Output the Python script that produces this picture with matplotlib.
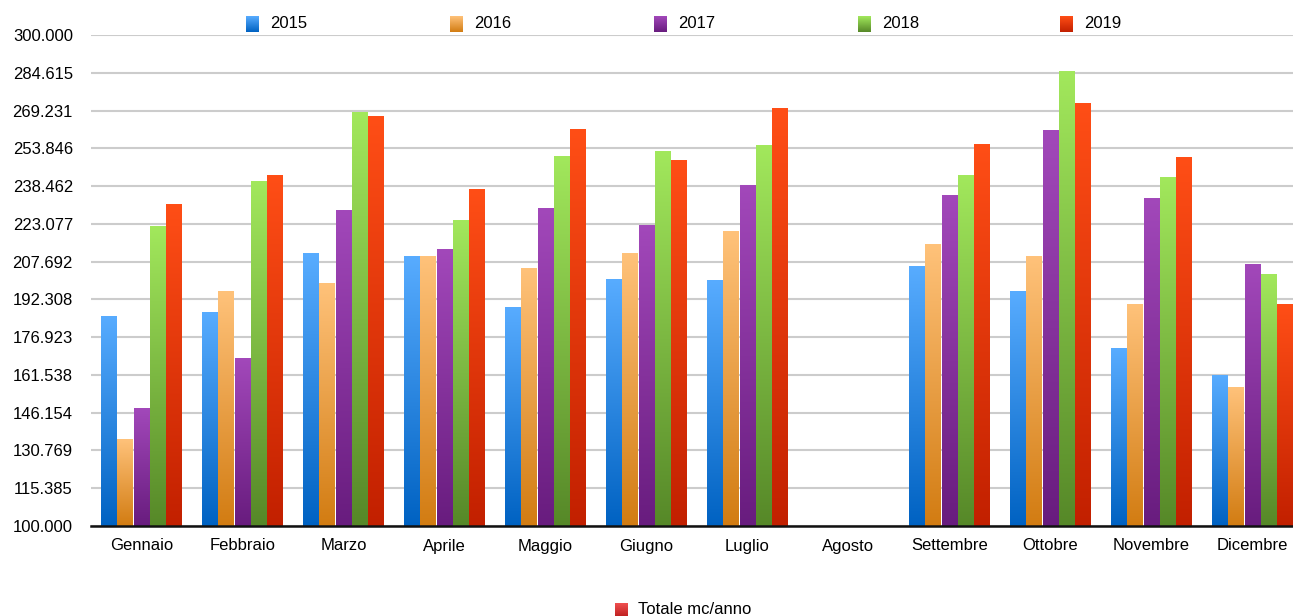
import numpy as np
import matplotlib
matplotlib.use("Agg")
import matplotlib.pyplot as plt
from matplotlib.colors import LinearSegmentedColormap

plt.rcParams['font.family'] = ['Liberation Sans', 'DejaVu Sans']

months = ["Gennaio", "Febbraio", "Marzo", "Aprile", "Maggio", "Giugno", "Luglio",
          "Agosto", "Settembre", "Ottobre", "Novembre", "Dicembre"]
years = ["2015", "2016", "2017", "2018", "2019"]
nan = np.nan
v2015 = [185.5, 186.8, 210.8, 209.6, 188.8, 200.6, 199.8, nan, 205.5, 195.7, 172.5, 161.5]
v2016 = [135.4, 195.7, 198.6, 209.6, 204.7, 210.8, 219.8, nan, 214.5, 209.6, 190.4, 156.6]
v2017 = [147.7, 168.4, 228.7, 212.8, 229.5, 222.6, 238.5, nan, 234.8, 260.9, 233.6, 206.7]
v2018 = [221.8, 240.5, 268.6, 224.6, 250.7, 252.7, 254.8, nan, 242.6, 285.3, 241.8, 202.6]
v2019 = [230.8, 242.6, 266.6, 236.9, 261.7, 248.7, 269.9, nan, 255.6, 271.9, 249.9, 190.4]
series = [v2015, v2016, v2017, v2018, v2019]
yticks = np.linspace(100, 300, 14)

grads = [("#0062c2", "#58acff"),
         ("#d27c12", "#ffc27a"),
         ("#681c7e", "#a248ba"),
         ("#568828", "#a2e85c"),
         ("#c22000", "#ff4e16")]
total_grad = ("#c02222", "#f05050")

W, H = 1293, 616
fig = plt.figure(figsize=(W / 100, H / 100), dpi=100)
ax_left, ax_right = 91 / W, 1.0
ax_bot, ax_top = (H - 526) / H, (H - 35) / H
ax = fig.add_axes([ax_left, ax_bot, ax_right - ax_left, ax_top - ax_bot])

x = np.arange(len(months))
bw = 0.162
grad_img = np.linspace(0, 1, 256).reshape(-1, 1)
for i, vals in enumerate(series):
    cmap = LinearSegmentedColormap.from_list("g%d" % i, grads[i])
    bars = ax.bar(x + (i - 2) * bw, np.array(vals) - 100, bottom=100, width=bw,
                  color="none", edgecolor="none")
    for r in bars:
        h = r.get_height()
        if not np.isfinite(h):
            continue
        x0 = r.get_x() + 0.004
        x1 = r.get_x() + r.get_width() - 0.004
        ax.imshow(grad_img, cmap=cmap, origin="lower", aspect="auto",
                  extent=[x0, x1, 100, 100 + h], zorder=3, interpolation="bilinear")

xlim_right = -0.5 + (W - 91) / 101
ax.set_xlim(-0.5, xlim_right)
ax.set_ylim(100, 300)
ax.set_yticks(yticks)
ax.set_yticklabels([f"{v:.3f}" for v in yticks], fontsize=12)
ax.set_xticks(x)
ax.set_xticklabels(months, fontsize=12)
ax.tick_params(axis="both", length=0)
ax.tick_params(axis="y", pad=13)
ax.tick_params(axis="x", pad=9)
ax.grid(axis="y", color="#cccccc", linewidth=1.5, zorder=0)
ax.set_axisbelow(True)
for s in ["top", "right", "left"]:
    ax.spines[s].set_visible(False)
ax.spines["bottom"].set_color("#111111")
ax.spines["bottom"].set_linewidth(1.8)
ax.spines["bottom"].set_zorder(5)

# top legend
leg_x = [246, 450, 654, 858, 1060]
for i, yr in enumerate(years):
    px = leg_x[i]
    lax = fig.add_axes([px / W, (H - 32) / H, 13 / W, 16 / H])
    cmap = LinearSegmentedColormap.from_list("l%d" % i, grads[i])
    lax.imshow(grad_img, cmap=cmap, origin="lower", aspect="auto", extent=[0, 1, 0, 1])
    lax.axis("off")
    fig.text((px + 24) / W, (H - 24) / H, yr, fontsize=12, va="center", ha="left")

# bottom legend
bax = fig.add_axes([615 / W, (H - 616) / H, 13 / W, 13 / H])
cmap = LinearSegmentedColormap.from_list("tot", total_grad)
bax.imshow(grad_img, cmap=cmap, origin="lower", aspect="auto", extent=[0, 1, 0, 1])
bax.axis("off")
fig.text(638 / W, (H - 610) / H, "Totale mc/anno", fontsize=12, va="center", ha="left")

fig.savefig("out.png", dpi=100)
